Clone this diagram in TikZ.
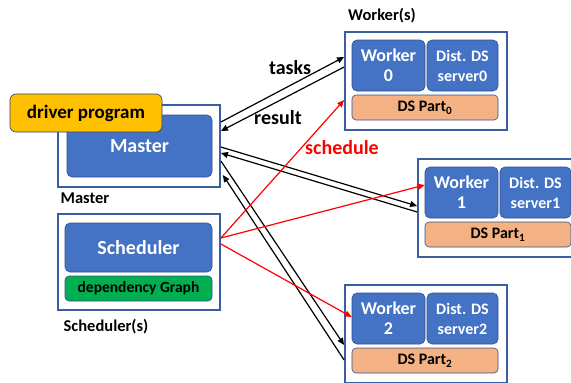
\documentclass[tikz,border=0pt]{standalone}
\usepackage{fontspec}
\setmainfont{Carlito}
\usetikzlibrary{arrows.meta}
\definecolor{obl}{HTML}{4472C4}
\definecolor{dbl}{HTML}{2F528F}
\definecolor{frame}{HTML}{3A5FA0}
\definecolor{ora}{HTML}{F4B183}
\definecolor{grn}{HTML}{00B050}
\definecolor{yel}{HTML}{FFC000}
\definecolor{red1}{HTML}{FF0000}
\tikzset{
  outerbox/.style={draw=frame, line width=1.8pt, fill=white, inner sep=0pt},
  bluebox/.style={rounded corners=5pt, fill=obl, draw=dbl, line width=0.6pt, text=white, inner sep=0pt, align=center, font=\bfseries},
  orabox/.style={rounded corners=4pt, fill=ora, draw=dbl, line width=0.6pt, text=black, inner sep=0pt, minimum width=146pt, minimum height=25pt, font=\fontsize{16}{18}\selectfont\bfseries},
  wbox/.style={bluebox, minimum width=73pt, minimum height=51pt, font=\fontsize{18}{20}\selectfont\bfseries},
  dbox/.style={bluebox, minimum width=71pt, minimum height=51pt, font=\fontsize{16}{20}\selectfont\bfseries},
  lbl/.style={font=\fontsize{16.5}{18}\selectfont\bfseries, inner sep=0pt},
  blk/.style={draw=black, line width=1.2pt, -{Triangle[length=7pt,width=6pt]}},
  rd/.style={draw=red1, line width=1.2pt, -{Triangle[length=7pt,width=6pt]}},
  arlbl/.style={font=\fontsize{20}{24}\selectfont\bfseries, inner sep=0pt}
}
\begin{document}
\begin{tikzpicture}[x=1pt,y=-1pt]
\useasboundingbox (0,0) rectangle (571,383);
\clip (0,0) rectangle (571,383);
% Master
\node[outerbox, minimum width=162pt, minimum height=82pt] (mo) at (139,146) {};
\node[bluebox, minimum width=145pt, minimum height=62pt, font=\fontsize{20}{22}\selectfont\bfseries] (master) at (139.5,146) {Master};
\node[rounded corners=6pt, fill=yel, draw=frame!70!black, line width=0.6pt, minimum width=152pt, minimum height=38pt, inner sep=0pt, font=\fontsize{19}{22}\selectfont\bfseries] (driver) at (86,113) {driver program};
\node[lbl] (mlbl) at (85,198) {Master};
% Scheduler
\node[outerbox, minimum width=162pt, minimum height=96pt] (so) at (139,262) {};
\node[bluebox, minimum width=147pt, minimum height=49pt, font=\fontsize{20}{22}\selectfont\bfseries] (sched) at (138.5,247.5) {Scheduler};
\node[rounded corners=4pt, fill=grn, draw=dbl, line width=0.6pt, minimum width=147pt, minimum height=25pt, inner sep=0pt, font=\fontsize{15.5}{17}\selectfont\bfseries] (dep) at (138.5,288.5) {dependency Graph};
\node[lbl] (slbl) at (106,327) {Scheduler(s)};
% Worker 0
\node[lbl] (wlbl) at (382,16) {Worker(s)};
\node[outerbox, minimum width=162pt, minimum height=98pt] (w0o) at (426,81) {};
\node[wbox] (w0) at (388.5,65.5) {Worker\\0};
\node[dbox] (d0) at (462.5,65.5) {Dist. DS\\server0};
\node[orabox] (p0) at (425,107.5) {DS Part\textsubscript{0}};
% Worker 1
\node[outerbox, minimum width=162pt, minimum height=98pt] (w1o) at (499,208) {};
\node[wbox] (w1) at (461.5,192.5) {Worker\\1};
\node[dbox] (d1) at (535.5,192.5) {Dist. DS\\server1};
\node[orabox] (p1) at (498,234.5) {DS Part\textsubscript{1}};
% Worker 2
\node[outerbox, minimum width=162pt, minimum height=98pt] (w2o) at (426,334) {};
\node[wbox] (w2) at (388.5,318.5) {Worker\\2};
\node[dbox] (d2) at (462.5,318.5) {Dist. DS\\server2};
\node[orabox] (p2) at (425,360.5) {DS Part\textsubscript{2}};
% black arrows
\draw[blk] ([yshift=24pt]mo.east) -- ([yshift=24pt]w0o.west);
\draw[blk] ([yshift=14pt]w0o.west) -- ([yshift=15pt]mo.east);
\draw[blk] ([yshift=-1pt]mo.east) -- ([yshift=2pt]w1o.west);
\draw[blk] ([yshift=-4pt]w1o.west) -- ([yshift=-7pt]mo.east);
\draw[blk] ([yshift=-15pt]mo.east) -- ([yshift=-11pt]w2o.west);
\draw[blk] ([yshift=-26pt]w2o.west) -- ([xshift=2pt,yshift=-29pt]mo.east);
% red arrows
\draw[rd] ([yshift=24pt]so.east) -- ([yshift=-19pt]w0o.west);
\draw[rd] ([yshift=24pt]so.east) -- ([yshift=7.5pt]w1.west);
\draw[rd] ([yshift=18pt]so.east) -- ([yshift=1.5pt]w2.west);
% labels
\node[arlbl] (tasks) at (290,68) {tasks};
\node[arlbl] (result) at (278,118) {result};
\node[arlbl, text=red1] (schedl) at (342,148) {schedule};
\end{tikzpicture}
\end{document}
